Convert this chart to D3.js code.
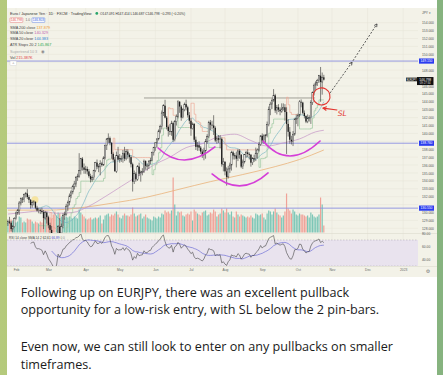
<!DOCTYPE html>
<html><head><meta charset="utf-8">
<script src="https://cdn.jsdelivr.net/npm/d3@7"></script>
<style>
html,body{margin:0;padding:0;background:#a3c27e;overflow:hidden}
svg{display:block}
</style></head><body>
<svg id="c" width="443" height="375"></svg>
<script>
// ---------------- DATA (EUR/JPY daily, Jan 25 2022 .. Oct 25 2022) ----------------
const firstBarDate = "2022-01-25";
const opens = [128.60,128.85,128.70,127.90,128.20,
129.25,129.95,130.30,131.20, 131.75,131.65,132.25,132.40,131.95, 131.60,130.95,131.25,131.35,130.60, 130.25,130.30,130.20,130.05,129.30, 130.00,
129.40,128.40,127.80,127.00, 125.80,125.60,125.90,128.20,127.40, 128.20,129.60,129.80,130.80,131.30, 132.10,132.60,133.30,133.60,134.40, 134.60,135.30,136.80,135.70,
135.40, 135.50,135.20,134.60,134.20,134.40, 135.30,136.30,135.80,135.80,136.20, 136.00,136.90,138.50,139.30,139.40, 138.80,137.40,136.70,135.20,137.20,
136.70,136.80,136.80,137.50,136.80, 137.70,137.30,137.00,136.10,133.90, 134.90,134.20,135.80,134.90,135.10, 135.20,136.50,135.90,135.90,136.50, 136.60,137.60,
138.20,138.80,139.30, 140.30,140.90,142.60,143.50,142.00, 140.80,140.30,140.20,141.30,139.20, 141.50,142.10,144.00,143.40,142.00, 143.00,143.70,143.30,142.30,
141.60, 140.60,141.20,139.20,138.30,138.50, 138.20,137.70,137.20,137.80,139.00, 139.60,141.40,141.10,141.00,140.70, 139.10,139.40,139.20,139.30,136.10,
136.40,135.20,134.50,135.50,136.00, 137.60,137.20,137.20,136.80,137.80, 137.30,135.80,136.40,137.30,137.60, 137.40,137.30,136.30,136.80,136.80, 137.50,137.90,138.60,
139.70,139.10, 139.70,139.80,141.10,143.00,143.70, 144.20,144.80,142.90,143.30,143.00, 142.80,143.10,143.30,142.70,141.20, 140.20,139.20,139.00,139.90,141.80,
141.90,142.30,144.00,143.90,142.60, 142.20,141.50,141.90,142.00,143.90, 145.20,146.10,146.40,146.70,147.30, 146.50,147.09];
const highs = [129.10,129.45,128.90,128.40,129.40,
130.10,130.45,131.45,131.90, 131.95,132.40,132.60,132.95,132.20, 131.70,131.50,131.55,131.40,130.85, 130.60,130.50,130.60,130.30,130.20, 130.10,
129.60,128.70,128.30,127.30, 126.30,126.60,128.40,129.30,128.60, 129.90,130.10,131.10,131.50,132.40, 132.80,133.50,134.00,134.60,134.90, 137.50,136.90,137.00,136.20,
135.90, 135.80,135.50,134.90,134.70,135.40, 136.40,136.70,136.10,136.60,136.40, 137.10,138.60,139.40,140.00,139.60, 138.90,137.60,137.00,137.70,138.30,
137.40,137.20,137.90,138.30,138.00, 138.00,137.50,137.20,136.30,135.30, 135.10,136.00,136.30,135.30,135.60, 136.70,136.60,136.20,136.60,136.90, 137.70,138.30,
138.90,139.40,140.50, 141.10,142.90,143.70,144.25,142.20, 141.00,141.20,141.60,141.50,141.70, 142.40,144.20,144.10,143.60,143.20, 143.90,144.27,143.50,142.70,
141.90, 141.40,141.30,139.60,138.90,139.00, 138.40,138.00,138.20,139.30,139.90, 141.60,141.70,141.60,142.30,140.90, 139.70,139.80,139.80,139.50,136.90,
136.50,135.70,135.90,136.30,137.80, 137.80,137.50,137.70,138.00,138.00, 137.40,136.70,137.40,137.80,138.00, 137.60,137.40,137.00,137.30,138.20, 138.10,138.90,139.80,
140.00,139.90, 139.90,141.50,143.40,144.00,144.40, 145.60,145.00,143.60,143.70,143.30, 143.80,143.80,143.70,143.30,141.80, 140.80,139.70,140.30,141.90,142.40,
142.50,144.20,144.30,144.00,142.90, 142.30,142.40,142.30,144.20,145.30, 146.30,146.60,146.90,147.40,148.40, 147.70,147.41];
const lows = [128.30,128.55,127.60,127.50,128.10,
129.10,129.70,129.70,130.90, 131.20,131.30,131.90,131.70,131.20, 130.50,130.60,130.90,130.40,130.10, 129.90,129.80,129.85,127.90,129.10, 128.60,
128.00,127.40,126.90,125.40, 124.40,125.20,125.80,127.00,127.30, 128.00,129.10,129.60,130.20,130.90, 131.80,132.30,132.90,133.20,134.00, 134.40,134.80,135.30,134.90,
134.90, 134.80,134.40,133.80,133.90,134.10, 135.10,135.50,135.10,134.70,135.80, 135.90,136.70,137.90,138.80,138.50, 136.80,136.40,135.20,135.00,136.60,
136.30,136.40,136.30,136.50,136.60, 136.80,136.30,135.70,132.65,133.60, 133.90,134.00,134.60,133.90,134.70, 135.00,135.40,135.30,135.50,136.10, 136.50,137.20,
137.80,138.20,139.10, 140.00,140.50,142.20,141.90,140.50, 139.60,139.80,139.70,138.90,139.00, 141.00,141.90,142.60,141.60,141.90, 142.80,142.90,142.00,141.20,
139.70, 140.50,138.90,137.90,137.80,137.80, 137.40,136.90,136.60,136.80,138.70, 139.40,140.40,140.50,139.80,138.90, 138.70,138.80,138.10,135.80,135.20,
134.70,133.40,134.30,135.00,135.30, 136.70,136.70,135.70,136.50,136.80, 135.60,135.50,136.20,136.90,137.00, 136.70,135.80,136.00,136.40,136.50, 136.80,137.70,138.40,
138.80,138.70, 138.80,139.50,140.90,142.30,143.10, 144.00,142.60,142.40,142.70,142.30, 142.60,142.90,141.60,137.40,139.60, 138.70,138.60,138.40,139.70,141.20,
140.90,142.10,143.30,142.40,141.90, 141.30,141.30,141.50,141.20,143.60, 144.80,145.50,146.00,146.40,144.00, 144.90,146.69];
const closes = [128.85,128.70,127.90,128.20,129.25,
129.95,130.30,131.20,131.75, 131.65,132.25,132.40,131.95,131.60, 130.95,131.25,131.35,130.60,130.25, 130.30,130.20,130.05,129.30,130.00, 129.40,
128.40,127.80,127.00,125.80, 125.60,125.90,128.20,127.40,128.20, 129.60,129.80,130.80,131.30,132.10, 132.60,133.30,133.60,134.40,134.60, 135.30,136.80,135.70,135.40,
135.50, 135.20,134.60,134.20,134.40,135.30, 136.30,135.80,135.80,136.20,136.00, 136.90,138.50,139.30,139.40,138.80, 137.40,136.70,135.20,137.20,136.70,
136.80,136.80,137.50,136.80,137.70, 137.30,137.00,136.10,133.90,134.90, 134.20,135.80,134.90,135.10,135.20, 136.50,135.90,135.90,136.50,136.60, 137.60,138.20,
138.80,139.30,140.30, 140.90,142.60,143.50,142.00,140.80, 140.30,140.20,141.30,139.20,141.50, 142.10,144.00,143.40,142.00,143.00, 143.70,143.30,142.30,141.60,
140.60, 141.20,139.20,138.30,138.50,138.20, 137.70,137.20,137.80,139.00,139.60, 141.40,141.10,141.00,140.70,139.10, 139.40,139.20,139.30,136.10,136.40,
135.20,134.50,135.50,136.00,137.60, 137.20,137.20,136.80,137.80,137.30, 135.80,136.40,137.30,137.60,137.40, 137.30,136.30,136.80,136.80,137.50, 137.90,138.60,139.70,
139.10,139.70, 139.80,141.10,143.00,143.70,144.20, 144.80,142.90,143.30,143.00,142.80, 143.10,143.30,142.70,141.20,140.20, 139.20,139.00,139.90,141.80,141.90,
142.30,144.00,143.90,142.60,142.20, 141.50,141.90,142.00,143.90,145.20, 146.10,146.40,146.70,147.30,146.50, 147.10,146.80];
const volumes = [110,120,130,120,110,
100,110,160,150, 100,110,100,140,130, 130,110,90,110,100, 90,110,100,190,140, 150,
160,150,140,180, 210,170,200,190,160, 150,140,160,150,160, 150,140,160,150,140, 230,200,180,160,
140, 130,140,150,130,140, 150,140,150,170,90, 130,170,180,190,160, 180,170,190,210,180,
150,140,170,190,170, 170,160,180,250,190, 160,170,180,190,140, 160,180,150,140,130, 120,160,
150,140,160, 150,190,180,220,200, 210,190,220,550,280, 170,210,200,210,170, 160,180,190,180,
210, 120,230,210,190,180, 170,200,210,220,170, 180,200,190,230,210, 160,180,190,240,220,
200,240,200,180,210, 160,150,210,180,160, 180,170,160,150,160, 150,170,150,140,190, 180,170,180,
190,150, 130,190,220,210,180, 210,240,200,180,170, 150,170,210,390,240, 220,190,230,210,180,
170,190,180,180,170, 160,170,150,200,180, 160,150,160,180,350, 280,70];

// moving averages (bar index, value)
const sma50Bars  = [0,10,20,30,40,50,60,70,80,90,100,110,120,130,140,150,160,170,180,190,195];
const sma50Vals  = [129.8,130.0,130.2,129.9,130.0,130.8,132.0,133.3,134.6,136.0,137.0,138.2,138.7,139.6,139.9,139.1,138.4,138.8,139.3,140.2,140.4];
const sma200Bars = [0,25,45,65,85,105,125,145,165,180,195];
const sma200Vals = [130.3,130.3,130.6,131.2,131.9,132.9,133.9,134.8,135.8,136.7,137.9];

// horizontal levels (blue), support/resistance (gray)
const blueLevels = [149.15, 138.76, 130.55];
const grayLines = [{from:84, to:189.6, price:144.48}, {from:0, to:41.4, price:133.1}];
const lastPrice = 146.798;

// axis ticks
const priceTicks = d3.range(128, 155, 1);
const rsiTicks = [80, 60, 40];
const monthTickDates = ["2022-02-01","2022-03-01","2022-04-01","2022-05-02","2022-06-01","2022-07-01","2022-08-01","2022-09-01","2022-10-03","2022-11-01","2022-12-01","2023-01-02"];
const monthTickLabels = ["Feb","Mar","Apr","May","Jun","Jul","Aug","Sep","Oct","Nov","Dec","2023"];

// hand drawn annotations, in (bar index, price)
const arcs = [
  [[92.7,138.16],[109.3,136.64],[127.8,138.29]],
  [[126,134.87],[143.3,133.36],[160.6,135.0]],
  [[157.5,139.04],[174.1,137.14],[192.7,139.04]]
];
const slCircle = {x0:188.3, x1:198.8, p0:145.75, p1:143.6};
const slArrow = [[203.1,142.96],[194.6,143.2]];
const slText = {bar:203.6, price:142.25, text:"SL"};
const projection = [[198.8,145.1],[212.4,149.0],[227.8,153.84]];
const yellowMark = {bar:16.7, price:131.6};

const messageLines = ["Following up on EURJPY, there was an excellent pullback",
  "opportunity for a low-risk entry, with SL below the 2 pin-bars.",
  "",
  "Even now, we can still look to enter on any pullbacks on smaller",
  "timeframes."];

// ---------------- RENDER ----------------
const svg = d3.select("#c");
const defs = svg.append("defs");
const grad = defs.append("linearGradient").attr("id","wall").attr("x1",0).attr("x2",1).attr("y1",0).attr("y2",0);
grad.append("stop").attr("offset","0").attr("stop-color","#b5ca7c");
grad.append("stop").attr("offset","1").attr("stop-color","#86b37f");
svg.append("rect").attr("width",443).attr("height",375).attr("fill","url(#wall)");
svg.append("rect").attr("x",7).attr("y",0).attr("width",430).attr("height",375).attr("fill","#ffffff");
const BG = "#f3f2e8";
svg.append("rect").attr("x",7).attr("y",8).attr("width",430).attr("height",269).attr("fill",BG);

const plotL = 7, plotR = 418, pTop = 8, pBot = 233, rTop = 234, rBot = 266;
const font = "'Liberation Sans', Arial, sans-serif";

const first = d3.timeParse("%Y-%m-%d")(firstBarDate);
const wdIndex = s => { const d = d3.timeParse("%Y-%m-%d")(s); return d3.timeDay.range(first, d).filter(t => t.getDay() % 6 !== 0).length; };
const x = d3.scaleLinear().domain([0, 244]).range([7.9, 403.2]);
const y = d3.scaleLinear().domain([128, 154]).range([228.3, 22.7]);
const yv = d3.scaleLinear().domain([0, 820]).range([232.5, 150.5]);
const yr = d3.scaleLinear().domain([30, 70]).range([266, 240]);

defs.append("clipPath").attr("id","cpP").append("rect").attr("x",plotL).attr("y",pTop).attr("width",plotR-plotL).attr("height",pBot-pTop);
defs.append("clipPath").attr("id","cpR").append("rect").attr("x",plotL).attr("y",rTop).attr("width",plotR-plotL).attr("height",rBot-rTop);

const tickIdx = monthTickDates.map(wdIndex);
// grid
const grid = svg.append("g").attr("stroke","#e7e5d9").attr("stroke-width",0.5);
grid.selectAll("line.v").data(tickIdx).join("line").attr("x1",d=>x(d)).attr("x2",d=>x(d)).attr("y1",pTop).attr("y2",rBot);
grid.selectAll("line.h").data(priceTicks).join("line").attr("class","h").attr("x1",plotL).attr("x2",plotR).attr("y1",d=>y(d)).attr("y2",d=>y(d));
// pane separators
svg.append("line").attr("x1",plotL).attr("x2",437).attr("y1",pBot+0.5).attr("y2",pBot+0.5).attr("stroke","#dcdacd").attr("stroke-width",0.6);
svg.append("line").attr("x1",plotL).attr("x2",437).attr("y1",rBot+0.5).attr("y2",rBot+0.5).attr("stroke","#dcdacd").attr("stroke-width",0.6);

const bars = closes.map((c,i)=>({i, o:opens[i], h:highs[i], l:lows[i], c, v:volumes[i]}));
const gP = svg.append("g").attr("clip-path","url(#cpP)");

// volume
gP.append("g").selectAll("rect").data(bars).join("rect")
  .attr("x",d=>x(d.i)-0.6).attr("width",1.2)
  .attr("y",d=>yv(d.v)).attr("height",d=>yv(0)-yv(d.v))
  .attr("fill",d=>d.c>=d.o ? "#7cc6b6" : "#f0a298");

// blue levels
gP.append("g").selectAll("line").data(blueLevels).join("line")
  .attr("x1",plotL).attr("x2",plotR).attr("y1",d=>y(d)).attr("y2",d=>y(d))
  .attr("stroke","#8a8ee0").attr("stroke-width",0.9);
// gray lines
gP.append("g").selectAll("line").data(grayLines).join("line")
  .attr("x1",d=>x(d.from)).attr("x2",d=>x(d.to)).attr("y1",d=>y(d.price)).attr("y2",d=>y(d.price))
  .attr("stroke","#8c8a80").attr("stroke-width",0.8);

// moving averages
const sma20 = closes.map((c,i)=> i<19 ? null : d3.mean(closes.slice(i-19,i+1)));
const line = d3.line().x(d=>x(d[0])).y(d=>y(d[1])).curve(d3.curveMonotoneX);
gP.append("path").attr("d",line(sma200Bars.map((b,i)=>[b,sma200Vals[i]]))).attr("fill","none").attr("stroke","#eab37a").attr("stroke-width",0.8);
gP.append("path").attr("d",line(sma50Bars.map((b,i)=>[b,sma50Vals[i]]))).attr("fill","none").attr("stroke","#c493c6").attr("stroke-width",0.7);
gP.append("path").attr("d",d3.line().defined(d=>d[1]!=null).x(d=>x(d[0])).y(d=>y(d[1]))(sma20.map((v,i)=>[i,v]))).attr("fill","none").attr("stroke","#6aaec0").attr("stroke-width",0.6);

// ATR trailing stops (20, x2), derived from the bars
{
  const n = 20, m = 2;
  const tr = bars.map((b,i)=> i===0 ? b.h-b.l : Math.max(b.h-b.l, Math.abs(b.h-bars[i-1].c), Math.abs(b.l-bars[i-1].c)));
  const atr = new Array(bars.length).fill(null);
  atr[n-1] = d3.mean(tr.slice(0,n));
  for (let i=n;i<bars.length;i++) atr[i] = (atr[i-1]*(n-1)+tr[i])/n;
  const stop = new Array(bars.length).fill(null);
  stop[n-1] = closes[n-1] - m*atr[n-1];
  for (let i=n;i<bars.length;i++){
    const ps = stop[i-1], c = closes[i], pc = closes[i-1], off = m*atr[i];
    if (c>ps && pc>ps) stop[i] = Math.max(ps, c-off);
    else if (c<ps && pc<ps) stop[i] = Math.min(ps, c+off);
    else stop[i] = c>ps ? c-off : c+off;
  }
  const segs = [];
  for (let i=n;i<bars.length;i++){
    const up = closes[i] > stop[i];
    segs.push({i, up, y1:stop[i-1], y2:stop[i]});
  }
  gP.append("g").selectAll("path").data(segs).join("path")
    .attr("d",d=>`M${x(d.i-1)},${y(d.y1)} H${x(d.i)} V${y(d.y2)}`)
    .attr("fill","none").attr("stroke",d=>d.up ? "#9cc8a0" : "#eeaa98").attr("stroke-width",0.7);
}

// yellow mark
gP.append("circle").attr("cx",x(yellowMark.bar)).attr("cy",y(yellowMark.price)).attr("r",3.5).attr("fill","rgba(250,215,90,0.5)");

// candles
const gc = gP.append("g");
gc.selectAll("line").data(bars).join("line")
  .attr("x1",d=>x(d.i)).attr("x2",d=>x(d.i)).attr("y1",d=>y(d.h)).attr("y2",d=>y(d.l))
  .attr("stroke","#333").attr("stroke-width",0.6);
gc.selectAll("rect").data(bars).join("rect")
  .attr("x",d=>x(d.i)-0.65).attr("width",1.3)
  .attr("y",d=>y(Math.max(d.o,d.c))).attr("height",d=>Math.max(0.6, Math.abs(y(d.o)-y(d.c))))
  .attr("fill",d=>d.c>=d.o ? "#fbfbf7" : "#1a1a1a")
  .attr("stroke",d=>d.c>=d.o ? "#333" : "none").attr("stroke-width",0.45);

// magenta arcs
arcs.forEach(a=>{
  const p = a.map(q=>[x(q[0]), y(q[1])]);
  const cx = 2*p[1][0] - (p[0][0]+p[2][0])/2, cy = 2*p[1][1] - (p[0][1]+p[2][1])/2;
  gP.append("path").attr("d",`M${p[0][0]},${p[0][1]} Q${cx},${cy} ${p[2][0]},${p[2][1]}`)
    .attr("fill","none").attr("stroke","#d53fd8").attr("stroke-width",1.6).attr("stroke-linecap","round");
});

// projection dashed arrow
const headPath = (a,b,s)=>{ const ang=Math.atan2(b[1]-a[1], b[0]-a[0]);
  const l=[b[0]-s*Math.cos(ang-0.5), b[1]-s*Math.sin(ang-0.5)], r=[b[0]-s*Math.cos(ang+0.5), b[1]-s*Math.sin(ang+0.5)];
  return `M${l[0]},${l[1]} L${b[0]},${b[1]} L${r[0]},${r[1]}`; };
const pp = projection.map(q=>[x(q[0]), y(q[1])]);
const ga = svg.append("g").attr("fill","none").attr("stroke","#4a4a4a").attr("stroke-width",0.9);
ga.append("path").attr("d",`M${pp[0][0]},${pp[0][1]} L${pp[1][0]},${pp[1][1]} L${pp[2][0]},${pp[2][1]}`).attr("stroke-dasharray","2,1.6");
ga.append("path").attr("d",headPath(pp[0],pp[1],3.2));
ga.append("path").attr("d",headPath(pp[1],pp[2],3.2));

// SL circle + arrow + text
const gr = svg.append("g").attr("fill","none").attr("stroke","#e3342f").attr("stroke-width",1.1).attr("stroke-linecap","round");
const ecx = (x(slCircle.x0)+x(slCircle.x1))/2, ecy = (y(slCircle.p0)+y(slCircle.p1))/2;
const erx = (x(slCircle.x1)-x(slCircle.x0))/2, ery = (y(slCircle.p1)-y(slCircle.p0))/2;
gr.append("ellipse").attr("cx",ecx).attr("cy",ecy).attr("rx",erx).attr("ry",ery).attr("transform",`rotate(-15,${ecx},${ecy})`);
const sa = slArrow.map(q=>[x(q[0]), y(q[1])]);
gr.append("path").attr("d",`M${sa[0][0]},${sa[0][1]} L${sa[1][0]},${sa[1][1]}`);
gr.append("path").attr("d",headPath(sa[0],sa[1],3.5));
svg.append("text").attr("x",x(slText.bar)).attr("y",y(slText.price)).text(slText.text)
  .attr("fill","#e3342f").attr("font-family","'DejaVu Sans', sans-serif").attr("font-style","italic").attr("font-size",7.5);

// RSI pane
const rsi = new Array(closes.length).fill(null);
{ const n=14; let g=0,l=0;
  for(let i=1;i<=n;i++){ const d=closes[i]-closes[i-1]; if(d>0) g+=d; else l-=d; }
  g/=n; l/=n; rsi[n]=100-100/(1+g/l);
  for(let i=n+1;i<closes.length;i++){ const d=closes[i]-closes[i-1];
    g=(g*(n-1)+Math.max(d,0))/n; l=(l*(n-1)+Math.max(-d,0))/n; rsi[i]=100-100/(1+g/l); } }
const rsiMa = rsi.map((v,i)=>{ const w=rsi.slice(Math.max(0,i-13),i+1); return (i<27||w.some(q=>q==null))?null:d3.mean(w); });
const gR = svg.append("g").attr("clip-path","url(#cpR)");
gR.append("rect").attr("x",plotL).attr("width",plotR-plotL).attr("y",yr(70)).attr("height",yr(30)-yr(70)).attr("fill","#e9e3ee");
gR.selectAll("line").data([70,30]).join("line").attr("x1",plotL).attr("x2",plotR).attr("y1",d=>yr(d)).attr("y2",d=>yr(d))
  .attr("stroke","#a9a3b0").attr("stroke-width",0.5).attr("stroke-dasharray","1.5,1.5");
const rl = d3.line().defined(d=>d[1]!=null).x(d=>x(d[0])).y(d=>yr(d[1]));
gR.append("path").attr("d",rl(rsiMa.map((v,i)=>[i,v]))).attr("fill","none").attr("stroke","#6f6fd6").attr("stroke-width",0.7);
gR.append("path").attr("d",rl(rsi.map((v,i)=>[i,v]))).attr("fill","none").attr("stroke","#444").attr("stroke-width",0.6);

// price axis
const boxYs = blueLevels.concat([lastPrice]).map(y);
const shownTicks = priceTicks.filter(t=>boxYs.every(b=>Math.abs(y(t)-b)>4));
const ax = svg.append("g").attr("transform",`translate(${421},0)`)
  .call(d3.axisRight(y).tickValues(shownTicks).tickFormat(d3.format(".3f")).tickSize(0).tickPadding(1));
ax.select(".domain").remove();
ax.selectAll("text").attr("font-size",3.3).attr("font-family",font).attr("fill","#555");
const axr = svg.append("g").attr("transform",`translate(${421},0)`)
  .call(d3.axisRight(yr).tickValues(rsiTicks).tickFormat(d3.format(".2f")).tickSize(0).tickPadding(1));
axr.select(".domain").remove();
axr.selectAll("text").attr("font-size",3.3).attr("font-family",font).attr("fill","#555");
svg.append("text").attr("x",422).attr("y",14).text("JPY ▾").attr("font-size",3.3).attr("font-family",font).attr("fill","#555");

// blue level boxes
blueLevels.forEach(p=>{
  svg.append("rect").attr("x",419).attr("y",y(p)-2.6).attr("width",15).attr("height",5.2).attr("fill","#2b3cf0");
  svg.append("text").attr("x",426.5).attr("y",y(p)+1.2).attr("text-anchor","middle").text(d3.format(".3f")(p))
    .attr("font-size",3.3).attr("font-family",font).attr("fill","#fff");
});
// last price label
svg.append("rect").attr("x",406).attr("y",y(lastPrice)-2).attr("width",11).attr("height",3.6).attr("fill","#111");
svg.append("text").attr("x",411.5).attr("y",y(lastPrice)+0.9).attr("text-anchor","middle").text("EURJPY").attr("font-size",2.6).attr("font-family",font).attr("fill","#fff");
svg.append("rect").attr("x",417).attr("y",y(lastPrice)-2.6).attr("width",16.5).attr("height",8).attr("fill","#111");
svg.append("text").attr("x",425.2).attr("y",y(lastPrice)+1).attr("text-anchor","middle").text(d3.format(".3f")(lastPrice)).attr("font-size",3.3).attr("font-family",font).attr("fill","#fff");
svg.append("text").attr("x",425.2).attr("y",y(lastPrice)+4.6).attr("text-anchor","middle").text("09:27:34").attr("font-size",2.8).attr("font-family",font).attr("fill","#ddd");

// time axis
const tx = svg.append("g").attr("transform",`translate(0,${268})`)
  .call(d3.axisBottom(x).tickValues(tickIdx).tickFormat((d,i)=>monthTickLabels[i]).tickSize(0).tickPadding(1));
tx.select(".domain").remove();
tx.selectAll("text").attr("font-size",3.3).attr("font-family",font).attr("fill","#666");
svg.append("text").attr("x",428).attr("y",273).attr("text-anchor","middle").text("⚙").attr("font-size",5).attr("font-family","'DejaVu Sans'").attr("fill","#777");

// legend
const lg = svg.append("g").attr("font-family",font).attr("font-size",3.8);
const t1 = lg.append("text").attr("x",10).attr("y",14.6).attr("fill","#333");
t1.append("tspan").text("Euro / Japanese Yen · 1D · FXCM · TradingView");
lg.append("circle").attr("cx",96.8).attr("cy",13.4).attr("r",1.4).attr("fill","#27a46a");
lg.append("text").attr("x",100).attr("y",14.6).attr("fill","#333").attr("font-size",3.3)
  .text("O147.091 H147.414 L146.687 C146.798 −0.293 (−0.20%)");
lg.append("rect").attr("x",10).attr("y",17.8).attr("width",12.8).attr("height",4.6).attr("fill","#fff").attr("stroke","#e05050").attr("stroke-width",0.4).attr("rx",0.6);
lg.append("text").attr("x",16.4).attr("y",21.3).attr("text-anchor","middle").attr("fill","#e05050").attr("font-size",3.2).text("146.798");
lg.append("text").attr("x",25.5).attr("y",21.3).attr("fill","#666").attr("font-size",3.2).text("1.0");
lg.append("rect").attr("x",32).attr("y",17.8).attr("width",12.8).attr("height",4.6).attr("fill","#fff").attr("stroke","#3060e0").attr("stroke-width",0.4).attr("rx",0.6);
lg.append("text").attr("x",38.4).attr("y",21.3).attr("text-anchor","middle").attr("fill","#3060e0").attr("font-size",3.2).text("146.803");
const legendRows = [
  {y:28.5, name:"SMA 200 close", val:"137.879", col:"#f09a2c"},
  {y:34.3, name:"SMA 50 close", val:"140.329", col:"#c060b0"},
  {y:40.1, name:"SMA 20 close", val:"144.383", col:"#2e7fd6"},
  {y:45.9, name:"ATR Stops 20 2", val:"145.867", col:"#2ea84f"},
  {y:52.6, name:"Supertrend 10 3", val:"", col:"#999"},
  {y:58.8, name:"Vol", val:"215.387K", col:"#e04040"}];
legendRows.forEach(r=>{
  const t = lg.append("text").attr("x",10).attr("y",r.y).attr("fill", r.val ? "#444" : "#aaa");
  t.append("tspan").text(r.name);
  if (r.val) t.append("tspan").attr("fill",r.col).text(" " + r.val);
});
lg.append("text").attr("x",41).attr("y",52.8).attr("fill","#888").attr("font-size",4.2).attr("font-family","'DejaVu Sans'").text("◉");
lg.append("rect").attr("x",10).attr("y",61).attr("width",6.5).attr("height",4.5).attr("fill","#fff").attr("stroke","#ccc").attr("stroke-width",0.4).attr("rx",0.8);
lg.append("text").attr("x",13.25).attr("y",64.9).attr("text-anchor","middle").attr("fill","#777").attr("font-size",3.6).text("^");
// RSI legend
const rt = svg.append("text").attr("x",9).attr("y",239).attr("font-family",font).attr("font-size",3.2).attr("fill","#444");
rt.append("tspan").text("RSI  14 close SMA 14 2  ");
rt.append("tspan").attr("fill","#333").text("62.61  ");
rt.append("tspan").attr("fill","#4a4ad0").text("66.89  ");
rt.append("tspan").attr("fill","#888").text("0  0");

// message text
const mt = svg.append("g").attr("font-family","'Open Sans', sans-serif").attr("fill","#1b1b1b");
const baselines = [296.5, 314.3, 332.5, 350.8, 368.8];
const probe = mt.append("text").attr("font-size",14).text(messageLines[0]);
const fs = 14 * 329 / probe.node().getComputedTextLength();
probe.remove();
messageLines.forEach((s,i)=>{ if(s) mt.append("text").attr("x",20.7).attr("y",baselines[i]).attr("font-size",fs).text(s); });
</script>
</body></html>
